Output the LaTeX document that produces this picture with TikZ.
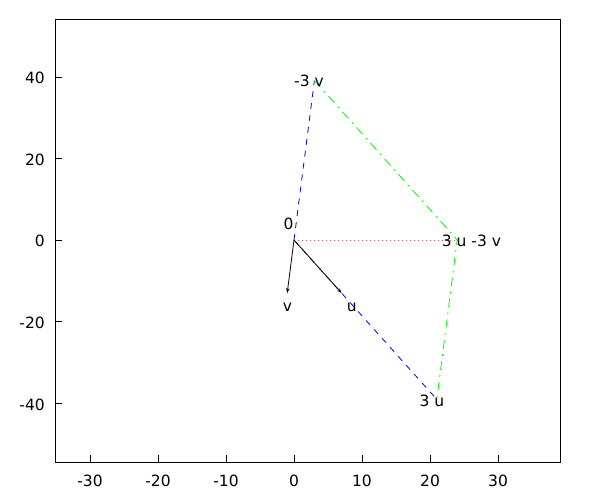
\documentclass[tikz,border=0pt]{standalone}
\usepackage{fontspec}
\setmainfont{DejaVu Sans}
\usetikzlibrary{arrows.meta}
\begin{document}
\begin{tikzpicture}[x=1pt,y=-1pt,
  lab/.style={anchor=base west,inner sep=0pt,font=\fontsize{15.5}{18}\selectfont},
  tlab/.style={inner sep=0pt,font=\fontsize{15.5}{18}\selectfont},
  vec/.style={draw=black,line width=0.8pt,-{Stealth[length=5pt,width=3.5pt]}},
  bdash/.style={draw=blue,line width=0.8pt,dash pattern=on 6pt off 6pt},
  gdash/.style={draw=green,line width=0.8pt,dash pattern=on 9pt off 5pt on 2pt off 5pt},
  rdot/.style={draw=red!70,line width=0.6pt,dash pattern=on 1pt off 3pt},
  frame/.style={draw=black,line width=1pt}]
\useasboundingbox (0,0) rectangle (600,500);
% frame
\draw[frame] (55.2,19.3) rectangle (560.3,462);
% x ticks
\foreach \v/\px in {-30/90,-20/158,-10/226,0/294,10/362,20/430,30/498}{
  \draw[line width=0.8pt] (\px,462) -- (\px,455);
  \node[tlab,anchor=base] at (\px,486.7) {\v};
}
% y ticks
\foreach \v/\py in {40/77,20/158.75,0/240,-20/321.75,-40/403.5}{
  \draw[line width=0.8pt] (55.2,\py) -- (62.2,\py);
  \node[tlab,anchor=base east] at (45,\py+6.5) {\v};
}
% points
\coordinate (O) at (294,240);
\coordinate (U) at (341.6,293.1);
\coordinate (V) at (287.2,293.1);
\coordinate (U3) at (436.8,399.4);
\coordinate (V3) at (314.4,80.6);
\coordinate (W) at (457.2,240);
% lines
\draw[rdot] (O) -- (W);
\draw[bdash] (O) -- (U3);
\draw[bdash] (O) -- (V3);
\draw[gdash] (V3) -- (W) -- (U3);
\draw[vec] (O) -- (U);
\draw[vec] (O) -- (V);
% labels
\node[lab] (l0) at (283.3,229.3) {0};
\node[lab] (lv) at (282.7,311) {v};
\node[lab] (lu) at (346.7,311) {u};
\node[lab] (lv3) at (294,86.7) {-3 v};
\node[lab] (lw) at (441.7,246.7) {3 u -3 v};
\node[lab] (lu3) at (419.3,406.7) {3 u};
\end{tikzpicture}
\end{document}
